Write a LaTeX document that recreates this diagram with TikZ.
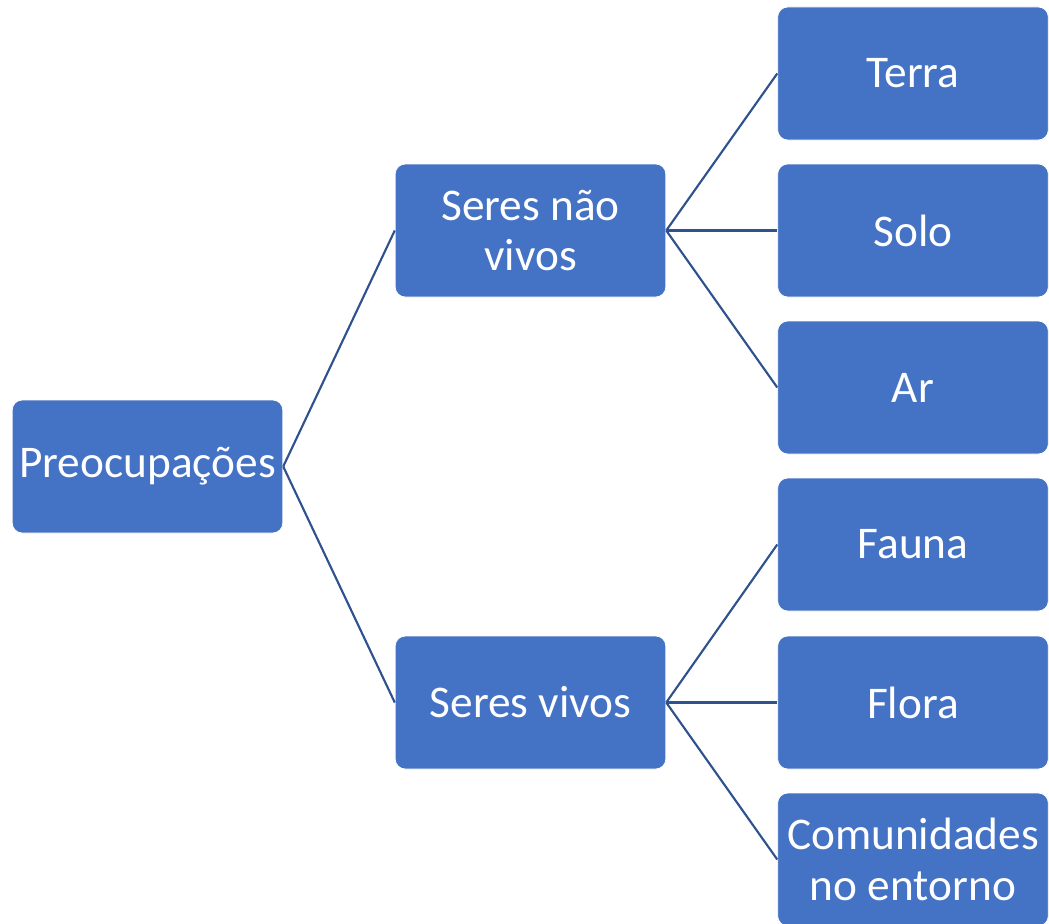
\documentclass[tikz,border=0pt]{standalone}
\usepackage{fontspec}
\setmainfont{Carlito}
\definecolor{boxblue}{HTML}{4472C4}
\definecolor{lineblue}{HTML}{2F528F}
\begin{document}
\begin{tikzpicture}[x=0.75pt,y=-0.75pt,
  box/.style={draw=white, line width=0.6pt, fill=boxblue, rounded corners=7.5pt,
    minimum width=203pt, minimum height=99.75pt, inner sep=0pt,
    text=white, align=center, font=\fontsize{34}{38}\selectfont},
  link/.style={draw=lineblue, line width=1.6pt}]
\useasboundingbox (0,0) rectangle (1049,924);
\node[box] (root) at (147.5,466.5) {Preocupações};
\node[box] (nv) at (530.5,230.5) {Seres não\\vivos};
\node[box] (v) at (530.5,702.5) {Seres vivos};
\node[box] (terra) at (913,73.5) {Terra};
\node[box] (solo) at (913,230.5) {Solo};
\node[box] (ar) at (913,387.5) {Ar};
\node[box] (fauna) at (913,544.5) {Fauna};
\node[box] (flora) at (913,702.5) {Flora};
\node[box] (com) at (913,859.5) {Comunidades\\no entorno};
\draw[link] (root.east) -- (nv.west);
\draw[link] (root.east) -- (v.west);
\draw[link] (nv.east) -- (terra.west);
\draw[link] (nv.east) -- (solo.west);
\draw[link] (nv.east) -- (ar.west);
\draw[link] (v.east) -- (fauna.west);
\draw[link] (v.east) -- (flora.west);
\draw[link] (v.east) -- (com.west);
\end{tikzpicture}
\end{document}
